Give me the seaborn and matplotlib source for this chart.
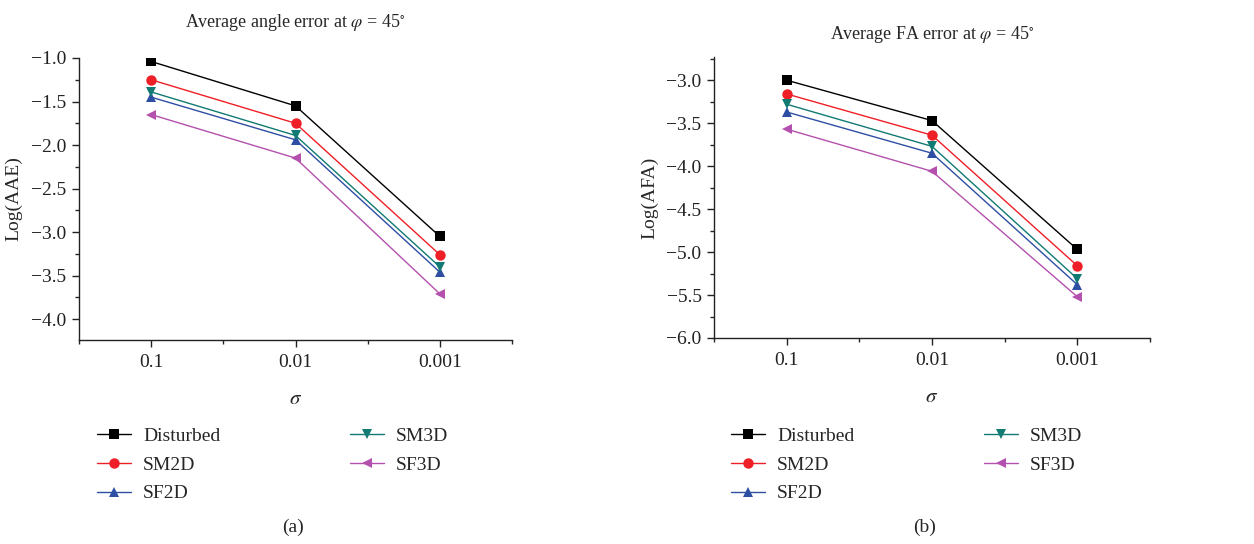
import numpy as np
import pandas as pd
import matplotlib
matplotlib.use("Agg")
import matplotlib.pyplot as plt
from matplotlib.ticker import MultipleLocator, FixedLocator
from matplotlib.lines import Line2D
import seaborn as sns

sigma_labels = ["0.1", "0.01", "0.001"]
methods = ["Disturbed", "SM2D", "SF2D", "SM3D", "SF3D"]

# Panel (a): Log(AAE)
aae_disturbed = [-1.04, -1.55, -3.05]
aae_sm2d = [-1.25, -1.75, -3.26]
aae_sf2d = [-1.45, -1.94, -3.46]
aae_sm3d = [-1.39, -1.89, -3.40]
aae_sf3d = [-1.65, -2.15, -3.71]

# Panel (b): Log(AFA)
afa_disturbed = [-3.00, -3.47, -4.97]
afa_sm2d = [-3.16, -3.64, -5.16]
afa_sf2d = [-3.37, -3.85, -5.38]
afa_sm3d = [-3.28, -3.77, -5.31]
afa_sf3d = [-3.57, -4.06, -5.52]

colors = {"Disturbed": "#000000", "SM2D": "#ee1f26", "SF2D": "#2d4ea3",
          "SM3D": "#107a73", "SF3D": "#b450ad"}
markers = {"Disturbed": "s", "SM2D": "o", "SF2D": "^", "SM3D": "v", "SF3D": "<"}


def long_df(series):
    rows = []
    for m, vals in zip(methods, series):
        for s, v in zip(sigma_labels, vals):
            rows.append({"sigma": s, "value": v, "method": m})
    return pd.DataFrame(rows)


df_a = long_df([aae_disturbed, aae_sm2d, aae_sf2d, aae_sm3d, aae_sf3d])
df_b = long_df([afa_disturbed, afa_sm2d, afa_sf2d, afa_sm3d, afa_sf3d])

sns.set_theme(style="ticks")
plt.rcParams["font.family"] = ["Liberation Serif", "DejaVu Serif"]
plt.rcParams["mathtext.fontset"] = "stix"
plt.rcParams["axes.unicode_minus"] = True

fig = plt.figure(figsize=(12.54, 5.44), dpi=100)
ax_a = fig.add_axes([79 / 1254, 1 - 340 / 544, 433 / 1254, 282 / 544])
ax_b = fig.add_axes([714 / 1254, 1 - 338 / 544, 436 / 1254, 281 / 544])


def draw(ax, df, ylim, yticks, title, ylabel, title_y):
    sns.lineplot(data=df, x="sigma", y="value", hue="method", style="method",
                 hue_order=methods, style_order=methods, palette=colors,
                 markers=markers, dashes=False, markersize=7.5, linewidth=1.0,
                 markeredgewidth=0, sort=False, legend=False, ax=ax)
    ax.set_xlim(-0.5, 2.5)
    ax.set_ylim(*ylim)
    ax.set_xticks([0, 1, 2])
    ax.set_xticklabels(sigma_labels)
    ax.xaxis.set_minor_locator(FixedLocator([-0.5, 0.5, 1.5, 2.5]))
    ax.set_yticks(yticks)
    ax.yaxis.set_minor_locator(MultipleLocator(0.25))
    ax.tick_params(axis="both", which="major", direction="out", length=5,
                   width=1, labelsize=14, colors="#222222")
    ax.tick_params(axis="both", which="minor", direction="out", length=3, width=1)
    ax.tick_params(axis="x", which="major", pad=5)
    ax.tick_params(axis="y", which="major", pad=4)
    for sp in ["top", "right"]:
        ax.spines[sp].set_visible(False)
    for sp in ["left", "bottom"]:
        ax.spines[sp].set_color("#222222")
        ax.spines[sp].set_linewidth(1.0)
    ax.set_xlabel(r"$\sigma$", fontsize=15, labelpad=14)
    ax.set_ylabel(ylabel, fontsize=14, labelpad=6)
    ax.set_title(title, fontsize=13, y=title_y)
    ax.grid(False)


draw(ax_a, df_a, (-4.24, -1.0), [-1.0, -1.5, -2.0, -2.5, -3.0, -3.5, -4.0],
     r"Average angle error at $\varphi$ = 45$^{\circ}$", "Log(AAE)", 1.08)
draw(ax_b, df_b, (-6.0, -2.73), [-3.0, -3.5, -4.0, -4.5, -5.0, -5.5, -6.0],
     r"Average FA error at $\varphi$ = 45$^{\circ}$", "Log(AFA)", 1.035)

handles = [Line2D([], [], color=colors[m], marker=markers[m], markersize=7.5,
                  markeredgewidth=0, linewidth=1.0) for m in methods]

for ax, x0 in [(ax_a, 97 / 1254), (ax_b, 731 / 1254)]:
    fig.legend(handles, methods, ncol=2, loc="upper left",
               bbox_to_anchor=(x0, 1 - 427 / 544), frameon=False,
               fontsize=14, handlelength=1.75, handletextpad=0.62,
               labelspacing=0.58, columnspacing=6.65, borderpad=0,
               borderaxespad=0)

fig.text(293 / 1254, 1 - 527 / 544, "(a)", ha="center", va="center", fontsize=14)
fig.text(925 / 1254, 1 - 527 / 544, "(b)", ha="center", va="center", fontsize=14)

fig.savefig("out.png", dpi=100)
